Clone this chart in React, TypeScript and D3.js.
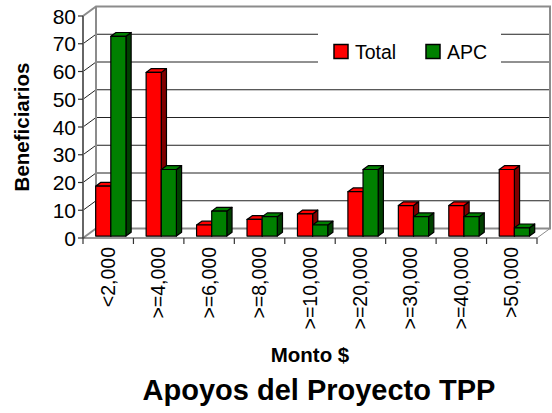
import React from "react";
import * as d3 from "d3";

const categories = ["<2,000", ">=4,000", ">=6,000", ">=8,000", ">=10,000", ">=20,000", ">=30,000", ">=40,000", ">50,000"];
const totalValues = [18, 59, 4, 6, 8, 16, 11, 11, 24];
const apcValues = [72, 24, 9, 7, 4, 24, 7, 7, 3];
const seriesNames = ["Total", "APC"];
const yTicks = [0, 10, 20, 30, 40, 50, 60, 70, 80];

const W = 552, H = 413;
const FONT = "'Liberation Sans', Arial, sans-serif";
const DX = 13, DY = -9.5;
const BAR_F0 = 0.2, BAR_DEPTH = 0.4;
const colors = { Total: { front: "#ff0000", side: "#800000", top: "#ff0000" }, APC: { front: "#008000", side: "#004000", top: "#008000" } };

export default function App() {
  const x = d3.scaleBand<string>().domain(categories).range([83, 537]).paddingInner(0).paddingOuter(0);
  const y = d3.scaleLinear().domain([0, 80]).range([238, 16]);
  const groupW = x.bandwidth() * 0.6;
  const xs = d3.scaleBand<string>().domain(seriesNames).range([0, groupW]);
  const data = [totalValues, apcValues];
  const ox = DX * BAR_F0, oy = DY * BAR_F0;
  const bdx = DX * BAR_DEPTH, bdy = DY * BAR_DEPTH;
  const y0 = y(0), yTop = y(80);
  const xL = 83, xR = 537;

  const bars: JSX.Element[] = [];
  categories.forEach((c, i) => {
    seriesNames.forEach((s, j) => {
      const v = data[j][i];
      const bx = (x(c) as number) + (x.bandwidth() - groupW) / 2 + (xs(s) as number) + ox;
      const w = xs.bandwidth();
      const top = y(v) + oy, bot = y0 + oy;
      const col = (colors as any)[s];
      bars.push(
        <g key={c + s} stroke="#000" strokeWidth={1.2} strokeLinejoin="round">
          <polygon points={`${bx + w},${top} ${bx + w + bdx},${top + bdy} ${bx + w + bdx},${bot + bdy} ${bx + w},${bot}`} fill={col.side} />
          <polygon points={`${bx},${top} ${bx + bdx},${top + bdy} ${bx + w + bdx},${top + bdy} ${bx + w},${top}`} fill={col.top} />
          <rect x={bx} y={top} width={w} height={bot - top} fill={col.front} />
        </g>
      );
    });
  });

  return (
    <svg width={W} height={H} style={{ position: "absolute", left: 0, top: 0, background: "#fff" }} fontFamily={FONT}>
      {yTicks.slice(1, -1).map(t => (
        <line key={"g" + t} x1={xL + DX} x2={xR + DX} y1={y(t) + DY} y2={y(t) + DY} stroke="#222" strokeWidth={1} />
      ))}
      {yTicks.slice(1, -1).map(t => (
        <line key={"d" + t} x1={xL} x2={xL + DX} y1={y(t)} y2={y(t) + DY} stroke="#222" strokeWidth={1} />
      ))}
      <g stroke="#8c8c8c" strokeWidth={2} fill="none">
        <polyline points={`${xL},${yTop} ${xL + DX},${yTop + DY} ${xR + DX},${yTop + DY} ${xR + DX},${y0 + DY} ${xL + DX},${y0 + DY} ${xL + DX},${yTop + DY}`} />
        <line x1={xL} y1={y0} x2={xL + DX} y2={y0 + DY} />
        <line x1={xR} y1={y0} x2={xR + DX} y2={y0 + DY} strokeWidth={1} />
      </g>
      <rect x={318} y={28} width={183} height={44} fill="#fff" />
      {bars}
      <line x1={xL} x2={xL} y1={yTop} y2={y0} stroke="#666" strokeWidth={2} />
      <line x1={xL} x2={xR} y1={y0} y2={y0} stroke="#333" strokeWidth={1.2} />
      {yTicks.map(t => (
        <g key={"yt" + t}>
          <line x1={xL - 5} x2={xL} y1={y(t)} y2={y(t)} stroke="#333" strokeWidth={1.2} />
          <text x={76} y={y(t) + 7.5} textAnchor="end" fontSize={21} fill="#000">{t}</text>
        </g>
      ))}
      {categories.map(c => (
        <line key={"xt" + c} x1={x(c) as number} x2={x(c) as number} y1={y0} y2={y0 + 6} stroke="#333" strokeWidth={1.2} />
      ))}
      <line x1={xR} x2={xR} y1={y0} y2={y0 + 6} stroke="#333" strokeWidth={1.2} />
      {categories.map(c => {
        const cx = (x(c) as number) + x.bandwidth() / 2 + 6.5;
        return (
          <text key={"xl" + c} transform={`translate(${cx},247) rotate(-90)`} textAnchor="end" fontSize={19.5} fill="#000">{c}</text>
        );
      })}
      {seriesNames.map((s, j) => {
        const lx = [334, 426][j];
        return (
          <g key={"lg" + s}>
            <rect x={lx} y={44.5} width={14} height={14} fill={(colors as any)[s].front} stroke="#000" strokeWidth={1.5} />
            <text x={lx + 21} y={58.5} fontSize={19.5} fill="#000">{s}</text>
          </g>
        );
      })}
      <text transform="translate(29,127) rotate(-90)" textAnchor="middle" fontSize={20.5} fontWeight="bold" fill="#000">Beneficiarios</text>
      <text x={310} y={362} textAnchor="middle" fontSize={20.5} fontWeight="bold" fill="#000">Monto $</text>
      <text x={319} y={400} textAnchor="middle" fontSize={29} fontWeight="bold" fill="#000">Apoyos del Proyecto TPP</text>
    </svg>
  );
}
